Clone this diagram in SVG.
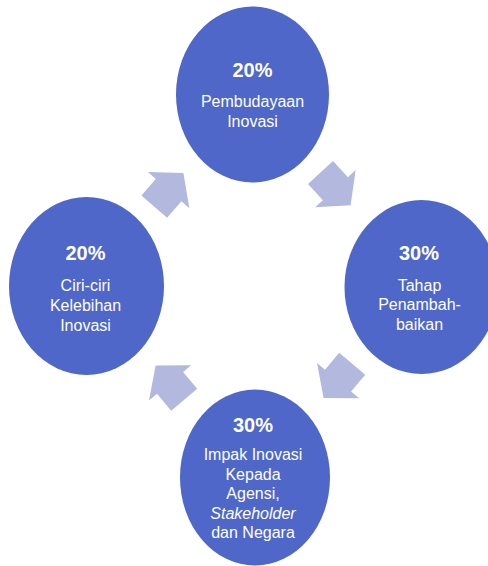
<svg xmlns="http://www.w3.org/2000/svg" width="488" height="566" viewBox="0 0 488 566">
  <defs>
    <style>
      .node { fill: #4E67C8; }
      .arrow { fill: #B3B8DF; }
      .pct { font-family: "Liberation Sans", Arial, sans-serif; font-size: 20px; font-weight: bold; fill: #FFFFFF; text-anchor: middle; }
      .lbl { font-family: "Liberation Sans", Arial, sans-serif; font-size: 16px; fill: #FFFFFF; text-anchor: middle; }
    </style>
    <path id="blockArrow" d="M0,-17 L22,-17 L22,-27.5 L44.5,0 L22,27.5 L22,17 L0,17 Z"/>
  </defs>
  <rect width="488" height="566" fill="#FFFFFF"/>

  <g id="connectors">
    <use href="#blockArrow" class="arrow" transform="translate(154.2,206.7) rotate(-49)"/>
    <use href="#blockArrow" class="arrow" transform="translate(320.5,172.5) rotate(47.4)"/>
    <use href="#blockArrow" class="arrow" transform="translate(352.2,363.8) rotate(130)"/>
    <use href="#blockArrow" class="arrow" transform="translate(184.2,399.7) rotate(-130)"/>
  </g>

  <g id="node-pembudayaan">
    <ellipse class="node" cx="252.5" cy="94.5" rx="76.5" ry="88"/>
    <text class="pct" x="252.5" y="77">20%</text>
    <text class="lbl" x="252.5" y="107">Pembudayaan</text>
    <text class="lbl" x="252.5" y="127">Inovasi</text>
  </g>

  <g id="node-penambahbaikan">
    <ellipse class="node" cx="421.5" cy="287" rx="77" ry="87"/>
    <text class="pct" x="419" y="260">30%</text>
    <text class="lbl" x="419.5" y="290.5">Tahap</text>
    <text class="lbl" x="419.5" y="310">Penambah-</text>
    <text class="lbl" x="419.5" y="329.5">baikan</text>
  </g>

  <g id="node-impak">
    <ellipse class="node" cx="255" cy="477.5" rx="75" ry="88"/>
    <text class="pct" x="253" y="432">30%</text>
    <text class="lbl" x="253" y="460">Impak Inovasi</text>
    <text class="lbl" x="253" y="479.5">Kepada</text>
    <text class="lbl" x="253" y="499">Agensi,</text>
    <text class="lbl" x="253" y="518.5" font-style="italic">Stakeholder</text>
    <text class="lbl" x="253" y="538">dan Negara</text>
  </g>

  <g id="node-ciri">
    <ellipse class="node" cx="86.5" cy="286" rx="77.5" ry="89"/>
    <text class="pct" x="85.5" y="260">20%</text>
    <text class="lbl" x="85.5" y="291">Ciri-ciri</text>
    <text class="lbl" x="85.5" y="311">Kelebihan</text>
    <text class="lbl" x="85.5" y="330.5">Inovasi</text>
  </g>
</svg>
